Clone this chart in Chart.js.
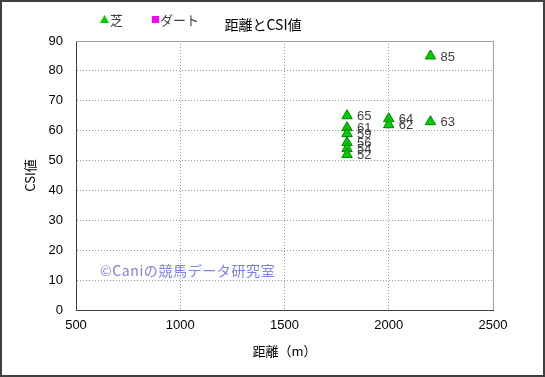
<!DOCTYPE html>
<html>
<head>
<meta charset="utf-8">
<script src="https://cdn.jsdelivr.net/npm/chart.js@4"></script>
<style>
html,body{margin:0;padding:0;background:#fff;}
#wrap{width:545px;height:377px;position:relative;}
canvas{display:block;}
</style>
</head>
<body>
<div id="wrap"><canvas id="c" width="545" height="377"></canvas></div>
<script>
// ---- data ----
const titleText = '距離とCSI値';
const seriesNames = ['芝', 'ダート'];
const turfDistance = [1800, 1800, 1800, 1800, 1800, 1800, 2000, 2000, 2200, 2200];
const turfCSI      = [65, 61, 59, 56, 54, 52, 64, 62, 85, 63];
const dirtDistance = [];
const dirtCSI      = [];
const xTicks = [500, 1000, 1500, 2000, 2500];
const yTicks = [0, 10, 20, 30, 40, 50, 60, 70, 80, 90];
const xAxisTitle = '距離（m）';
const yAxisTitle = 'CSI値';
const watermark = '©Caniの競馬データ研究室';

const FONT = '"Liberation Sans", "Noto Sans CJK JP", sans-serif';
const JFONT = '"Noto Sans CJK JP", "Liberation Sans", sans-serif';

const toPts = (xs, ys) => xs.map((x, i) => ({x: x, y: ys[i]}));

const decor = {
  id: 'decor',
  beforeDraw(chart) {
    const {ctx} = chart;
    ctx.save();
    ctx.fillStyle = '#fff';
    ctx.fillRect(0, 0, chart.width, chart.height);
    ctx.restore();
  },
  afterDatasetsDraw(chart) {
    const {ctx, chartArea: a} = chart;
    ctx.save();
    // plot frame top/right
    ctx.strokeStyle = '#a0a0a0';
    ctx.lineWidth = 1;
    ctx.beginPath();
    ctx.moveTo(a.left, a.top + 0.5);
    ctx.lineTo(a.right + 0.5, a.top + 0.5);
    ctx.lineTo(a.right + 0.5, a.bottom);
    ctx.stroke();
    // data labels
    ctx.font = '13px ' + FONT;
    ctx.fillStyle = '#404040';
    ctx.textAlign = 'left';
    ctx.textBaseline = 'middle';
    chart.data.datasets.forEach((ds, di) => {
      const meta = chart.getDatasetMeta(di);
      meta.data.forEach((el, i) => {
        ctx.fillText(String(ds.data[i].y), el.x + 10, el.y + 1);
      });
    });
    // watermark
    ctx.font = '14px ' + JFONT;
    ctx.fillStyle = '#7f7fe6';
    ctx.textBaseline = 'middle';
    try { ctx.letterSpacing = '0.6px'; } catch (e) {}
    ctx.fillText(watermark, 100, 271);
    ctx.restore();
  },
  afterDraw(chart) {
    const {ctx} = chart;
    ctx.save();
    // title
    ctx.font = '14px ' + JFONT;
    ctx.fillStyle = '#000';
    ctx.textAlign = 'center';
    ctx.textBaseline = 'middle';
    ctx.fillText(titleText, 263, 25);
    // legend
    const ds = chart.data.datasets;
    ctx.textAlign = 'left';
    ctx.font = '13px ' + JFONT;
    ctx.fillStyle = ds[0].backgroundColor;
    ctx.beginPath();
    ctx.moveTo(104.5, 15);
    ctx.lineTo(109, 23);
    ctx.lineTo(100, 23);
    ctx.closePath();
    ctx.fill();
    ctx.fillStyle = '#404040';
    ctx.fillText(ds[0].label, 110, 20);
    ctx.fillStyle = ds[1].backgroundColor;
    ctx.fillRect(152, 16, 7, 7);
    ctx.fillStyle = '#404040';
    ctx.fillText(ds[1].label, 160, 20);
    // outer border
    ctx.strokeStyle = '#404040';
    ctx.lineWidth = 2;
    ctx.strokeRect(1, 1, chart.width - 2, chart.height - 2);
    ctx.restore();
  }
};

new Chart(document.getElementById('c'), {
  type: 'scatter',
  data: {
    datasets: [
      {
        label: seriesNames[0],
        data: toPts(turfDistance, turfCSI),
        pointStyle: 'triangle',
        pointRadius: 6,
        pointHoverRadius: 6,
        backgroundColor: '#00d000',
        borderColor: '#008000',
        borderWidth: 1
      },
      {
        label: seriesNames[1],
        data: toPts(dirtDistance, dirtCSI),
        pointStyle: 'rect',
        pointRadius: 4,
        backgroundColor: '#ff00ff',
        borderColor: '#ff00ff',
        borderWidth: 1
      }
    ]
  },
  options: {
    responsive: false,
    animation: false,
    devicePixelRatio: 1,
    layout: {padding: {left: 0, right: 52, top: 41, bottom: 0}},
    plugins: {
      legend: {display: false},
      title: {display: false},
      tooltip: {enabled: false}
    },
    scales: {
      x: {
        type: 'linear',
        min: 500, max: 2500,
        afterBuildTicks: s => { s.ticks = xTicks.map(v => ({value: v})); },
        afterFit: s => { s.height = 67; },
        ticks: {color: '#000', font: {size: 13, family: FONT}, padding: 8, maxRotation: 0,
                callback: v => String(v)},
        grid: {color: '#999', drawTicks: false},
        border: {color: '#404040', width: 1, dash: [1, 2]},
        title: {display: true, text: xAxisTitle, color: '#000', font: {size: 13, family: JFONT}, padding: {top: 0, bottom: 18}}
      },
      y: {
        type: 'linear',
        min: 0, max: 90,
        afterBuildTicks: s => { s.ticks = yTicks.map(v => ({value: v})); },
        afterFit: s => { s.width = 76; },
        ticks: {color: '#000', font: {size: 13, family: FONT}, padding: 13, callback: v => String(v)},
        grid: {color: '#999', drawTicks: false},
        border: {color: '#404040', width: 1, dash: [1, 2]},
        title: {display: true, text: yAxisTitle, color: '#000', font: {size: 13, family: JFONT}, padding: {top: 22, bottom: 0}}
      }
    }
  },
  plugins: [decor]
});
</script>
</body>
</html>
